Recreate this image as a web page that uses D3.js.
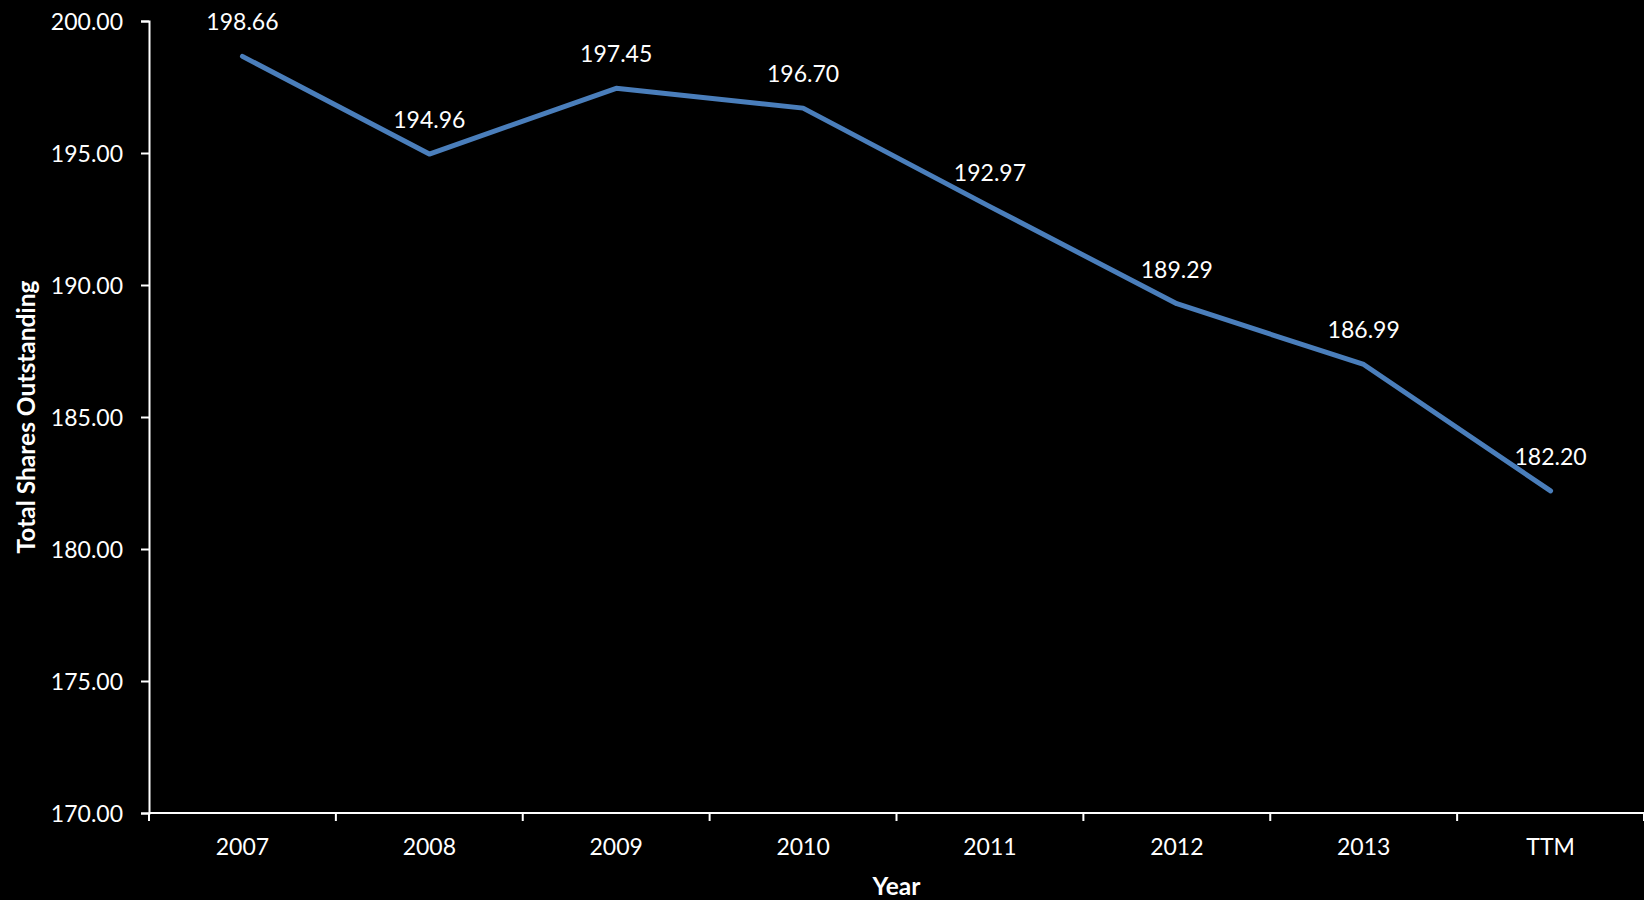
<!DOCTYPE html>
<html>
<head>
<meta charset="utf-8">
<script src="https://cdn.jsdelivr.net/npm/d3@7"></script>
<style>
  html, body { margin: 0; padding: 0; background: #000; }
  svg { display: block; }
  text { font-family: Lato, "Open Sans", sans-serif; fill: #fff; }
</style>
</head>
<body>
<svg id="chart" width="1644" height="900"></svg>
<script>
// Total shares outstanding by year (millions)
const years = ["2007", "2008", "2009", "2010", "2011", "2012", "2013", "TTM"];
const shares = [198.66, 194.96, 197.45, 196.70, 192.97, 189.29, 186.99, 182.20];
const yTicks = [170, 175, 180, 185, 190, 195, 200];

const W = 1644, H = 900;
const margin = { top: 21, right: 0, bottom: 87, left: 149 };
const labelSize = "23px";
const titleSize = "24.5px";

const svg = d3.select("#chart");

const x = d3.scaleBand()
  .domain(years)
  .range([margin.left, W - margin.right]);

const y = d3.scaleLinear()
  .domain([170, 200])
  .range([H - margin.bottom, margin.top]);

const fmt = d3.format(".2f");

// y axis
const yAxis = svg.append("g")
  .attr("transform", `translate(${margin.left},0)`)
  .call(d3.axisLeft(y).tickValues(yTicks).tickFormat(fmt).tickSize(8).tickPadding(18));
yAxis.select(".domain").attr("stroke", "#fff").attr("stroke-width", 2);
yAxis.selectAll(".tick line").attr("stroke", "#fff").attr("stroke-width", 2);
yAxis.selectAll(".tick text")
  .attr("fill", "#fff")
  .style("font-size", labelSize)
  .attr("dy", "0.36em");

// x axis with ticks on band boundaries
const xAxisG = svg.append("g")
  .attr("transform", `translate(0,${H - margin.bottom})`);
xAxisG.append("line")
  .attr("x1", margin.left).attr("x2", W - margin.right)
  .attr("stroke", "#fff").attr("stroke-width", 2);
const boundaries = years.map(d => x(d)).concat([x(years[years.length - 1]) + x.bandwidth()]);
xAxisG.selectAll(".xt")
  .data(boundaries)
  .join("line")
  .attr("x1", d => d).attr("x2", d => d)
  .attr("y1", 0).attr("y2", 8)
  .attr("stroke", "#fff").attr("stroke-width", 2);
xAxisG.selectAll(".xl")
  .data(years)
  .join("text")
  .attr("x", d => x(d) + x.bandwidth() / 2)
  .attr("y", 42)
  .attr("text-anchor", "middle")
  .style("font-size", labelSize)
  .text(d => d);

// axis titles
svg.append("text")
  .attr("x", (margin.left + W - margin.right) / 2)
  .attr("y", 895)
  .attr("text-anchor", "middle")
  .style("font-size", titleSize)
  .style("font-weight", "bold")
  .text("Year");

svg.append("text")
  .attr("transform", `translate(35,${(margin.top + H - margin.bottom) / 2}) rotate(-90)`)
  .attr("text-anchor", "middle")
  .style("font-size", titleSize)
  .style("font-weight", "bold")
  .text("Total Shares Outstanding");

// series line
const pts = years.map((d, i) => ({ year: d, value: shares[i] }));
const line = d3.line()
  .x(d => x(d.year) + x.bandwidth() / 2)
  .y(d => y(d.value));

svg.append("path")
  .datum(pts)
  .attr("d", line)
  .attr("fill", "none")
  .attr("stroke", "#4A7EBB")
  .attr("stroke-width", 5)
  .attr("stroke-linejoin", "round")
  .attr("stroke-linecap", "round");

// value labels
svg.selectAll(".vl")
  .data(pts)
  .join("text")
  .attr("x", d => x(d.year) + x.bandwidth() / 2)
  .attr("y", d => y(d.value) - 26)
  .attr("text-anchor", "middle")
  .style("font-size", labelSize)
  .text(d => fmt(d.value));
</script>
</body>
</html>
